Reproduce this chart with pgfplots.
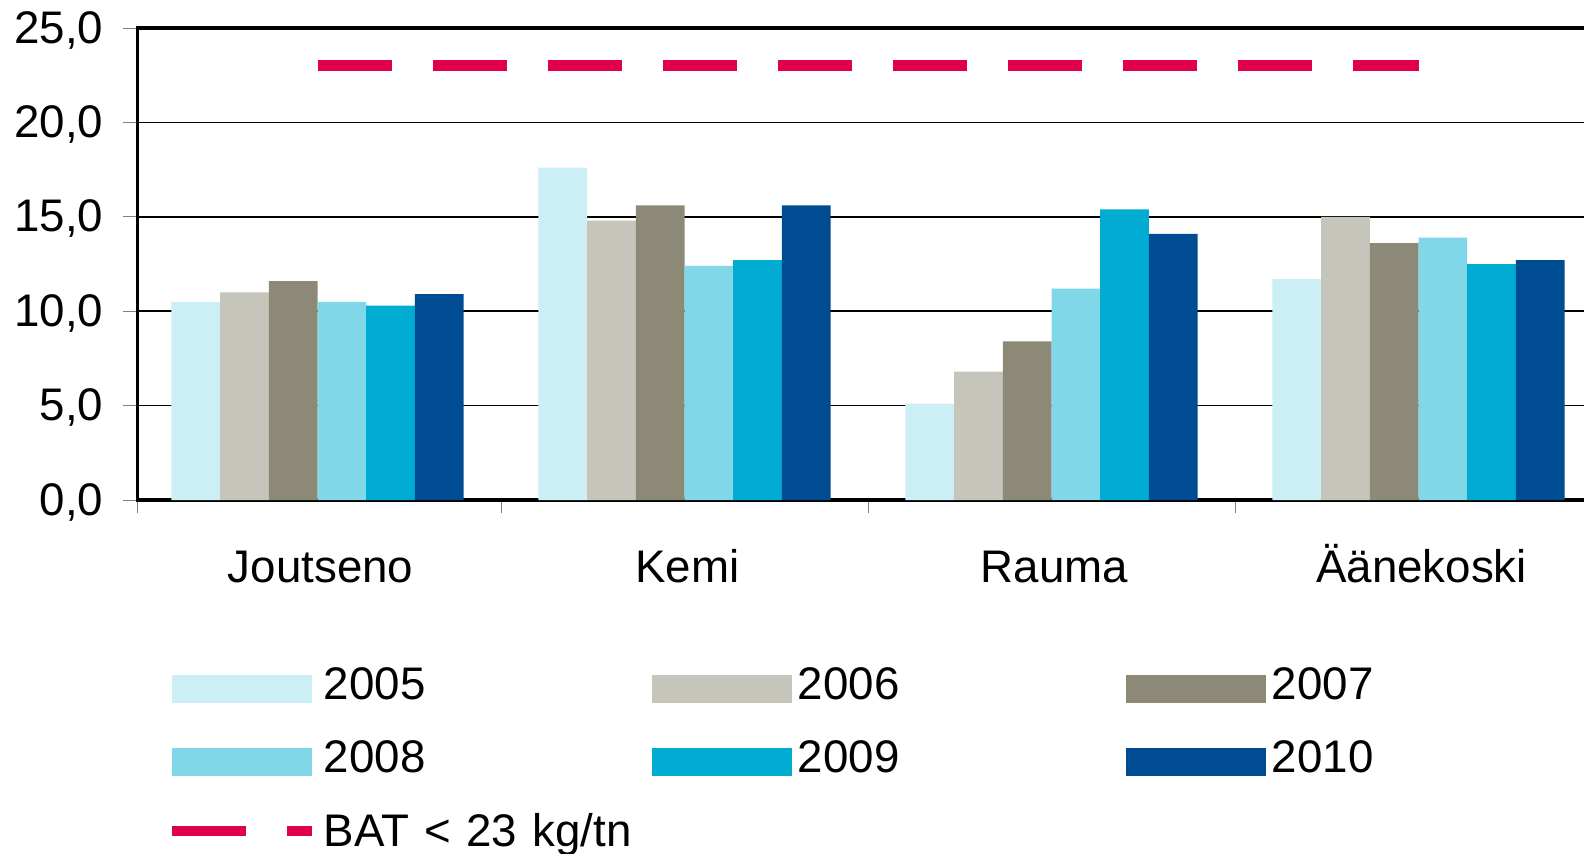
\documentclass[border=0pt]{standalone}
\usepackage{fontspec}
\setmainfont{Liberation Sans}
\usepackage{pgfplots}
\usepackage{pgfplotstable}
\pgfplotsset{compat=1.18}

\definecolor{c2005}{HTML}{CCEEF5}
\definecolor{c2006}{HTML}{C5C5BC}
\definecolor{c2007}{HTML}{8C8977}
\definecolor{c2008}{HTML}{80D7E8}
\definecolor{c2009}{HTML}{00ACD1}
\definecolor{c2010}{HTML}{004C92}
\definecolor{batred}{HTML}{E0004F}

% kg/tn per mill and year
\pgfplotstableread{
x y2005 y2006 y2007 y2008 y2009 y2010
0 10.5 11.0 11.6 10.5 10.3 10.9
1 17.6 14.8 15.6 12.4 12.7 15.6
2 5.1  6.8  8.4  11.2 15.4 14.1
3 11.7 15.0 13.6 13.9 12.5 12.7
}\mills

\pgfplotsset{
  yr/.style 2 args={ybar, bar width=0.1327, bar shift=#2, fill=#1, draw=none,
    legend image code/.code={\fill[#1] (0mm,-1.5mm) rectangle (14mm,1.3mm); \path (14.6mm,0mm);}},
}

\begin{document}
\begin{tikzpicture}
\useasboundingbox (0,0) rectangle (158.4mm,85.3mm);
\begin{axis}[
    at={(13.77mm,35.3mm)}, anchor=south west,
    scale only axis, width=146.8mm, height=47.2mm,
    xmin=-0.49, xmax=3.51, ymin=0, ymax=25,
    xtick={0,1,2,3},
    xticklabels={Joutseno,Kemi,Rauma,Äänekoski},
    minor xtick={-0.49,0.5,1.5,2.5},
    ytick={0,5,...,25},
    tick pos=left, tick align=outside,
    major tick length=1.5mm, minor tick length=1.3mm,
    tick style={gray, line width=0.1mm},
    major x tick style={draw=none},
    ymajorgrids,
    major grid style={black, line width=0.15mm},
    axis line style={black, line width=0.35mm},
    tick label style={font=\fontsize{13}{15.6}\selectfont, black},
    yticklabel style={anchor=base east, inner sep=0pt, xshift=-1.87mm, yshift=-1.5mm},
    xticklabel style={anchor=base, inner sep=0pt, yshift=-6.7mm, xshift=0.3mm},
    /pgf/number format/.cd, fixed, fixed zerofill, precision=1, use comma, assume math mode=true,
    /pgfplots/.cd,
    legend columns=3,
    legend cell align=left,
    legend style={draw=none, fill=none, inner sep=0pt, outer sep=0pt,
      column sep=0pt, row sep=3.08mm,
      at={(rel axis cs:0.020,-0.3517)}, anchor=north west,
      font=\fontsize{13}{15.6}\selectfont,
      nodes={inner sep=0pt, text width=32.8mm, text height=3.3mm, text depth=1mm, align=left}},
]
\addplot[yr={c2005}{-0.33175}] table[x=x, y=y2005] {\mills};
\addlegendentry{2005}
\addplot[yr={c2006}{-0.19905}] table[x=x, y=y2006] {\mills};
\addlegendentry{2006}
\addplot[yr={c2007}{-0.06635}] table[x=x, y=y2007] {\mills};
\addlegendentry{2007}
\addplot[yr={c2008}{0.06635}] table[x=x, y=y2008] {\mills};
\addlegendentry{2008}
\addplot[yr={c2009}{0.19905}] table[x=x, y=y2009] {\mills};
\addlegendentry{2009}
\addplot[yr={c2010}{0.33175}] table[x=x, y=y2010] {\mills};
\addlegendentry{2010}
\addplot[batred, line width=1.1mm, dash pattern=on 7.4mm off 4.1mm, sharp plot, no markers,
    legend image code/.code={\draw[batred, line width=1.07mm] (0mm,0.4mm) -- (7.4mm,0.4mm) (11.5mm,0.4mm) -- (14mm,0.4mm); \path (14.6mm,0mm);}]
    coordinates {(0,23) (3,23)};
\addlegendentry{BAT < 23 kg/tn}
\end{axis}
\end{tikzpicture}
\end{document}
